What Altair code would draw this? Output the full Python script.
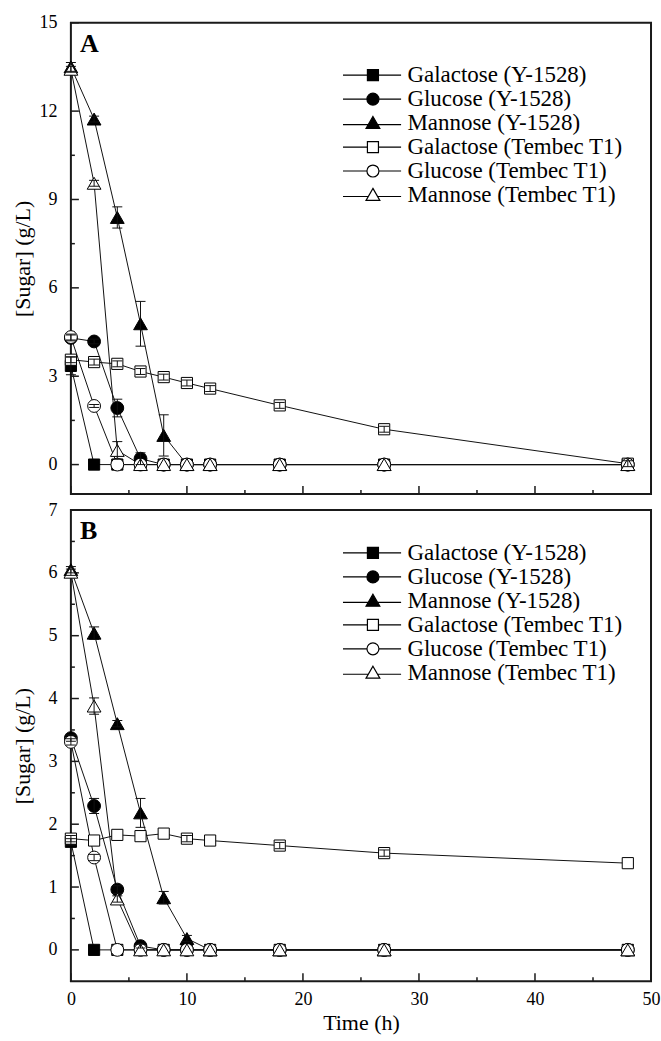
import altair as alt
import pandas as pd

FONT = "Liberation Serif"
W = 581
H = 472

times = [0, 2, 4, 6, 8, 10, 12, 18, 27, 48]
series_names = ["Galactose (Y-1528)", "Glucose (Y-1528)", "Mannose (Y-1528)",
                "Galactose (Tembec T1)", "Glucose (Tembec T1)", "Mannose (Tembec T1)"]
point_shapes = ["square", "circle", "triangle-up", "square", "circle", "triangle-up"]
point_fills = ["black", "black", "black", "white", "white", "white"]
point_strokes = ["black", "black", "black", "black", "black", "black"]
point_sizes = [125, 165, 190, 125, 165, 190]
legend_paths = [
    "M-5,0H-0.92M0.92,0H4.7M-0.92,-0.92H0.92V0.92H-0.92Z",
    "M-5,0H-1M1,0H4.7M-1,0A1,1,0,1,1,1,0A1,1,0,1,1,-1,0Z",
    "M-5,0.25H-0.78M0.78,0.25H4.7M0,-1.1L1.15,0.9H-1.15Z",
    "M-5,0H-0.92M0.92,0H4.7M-0.92,-0.92H0.92V0.92H-0.92Z",
    "M-5,0H-1M1,0H4.7M-1,0A1,1,0,1,1,1,0A1,1,0,1,1,-1,0Z",
    "M-5,0.25H-0.78M0.78,0.25H4.7M0,-1.1L1.15,0.9H-1.15Z",
]
panel_labels = ["A", "B"]

# Panel A values (g/L)
a_gal_y = [3.35, 0, 0, 0, 0, 0, 0, 0, 0, 0]
a_glu_y = [4.30, 4.18, 1.92, 0.20, 0, 0, 0, 0, 0, 0]
a_man_y = [13.50, 11.73, 8.39, 4.78, 0.99, 0, 0, 0, 0, 0]
a_gal_t = [3.56, 3.48, 3.42, 3.16, 2.97, 2.77, 2.58, 2.01, 1.20, 0.03]
a_glu_t = [4.33, 1.99, 0, 0, 0, 0, 0, 0, 0, 0]
a_man_t = [13.42, 9.55, 0.48, 0, 0, 0, 0, 0, 0, 0]
# Panel A error half-widths
a_gal_y_err = [0.30, 0, 0, 0, 0, 0, 0, 0, 0, 0]
a_glu_y_err = [0.10, 0.08, 0.30, 0.20, 0, 0, 0, 0, 0, 0]
a_man_y_err = [0.15, 0.10, 0.36, 0.76, 0.70, 0, 0, 0, 0, 0]
a_gal_t_err = [0.10, 0.10, 0.10, 0.10, 0.10, 0.10, 0.10, 0.10, 0.10, 0.10]
a_glu_t_err = [0.10, 0.05, 0, 0, 0, 0, 0, 0, 0, 0]
a_man_t_err = [0.10, 0.10, 0.30, 0, 0, 0, 0, 0, 0, 0]

# Panel B values (g/L)
b_gal_y = [1.72, 0, 0, 0, 0, 0, 0, 0, 0, 0]
b_glu_y = [3.37, 2.29, 0.96, 0.06, 0, 0, 0, 0, 0, 0]
b_man_y = [6.05, 5.04, 3.60, 2.18, 0.83, 0.18, 0, 0, 0, 0]
b_gal_t = [1.77, 1.74, 1.83, 1.81, 1.85, 1.77, 1.74, 1.66, 1.54, 1.38]
b_glu_t = [3.31, 1.47, 0, 0, 0, 0, 0, 0, 0, 0]
b_man_t = [6.01, 3.88, 0.81, 0, 0, 0, 0, 0, 0, 0]
# Panel B error half-widths
b_gal_y_err = [0.05, 0, 0, 0, 0, 0, 0, 0, 0, 0]
b_glu_y_err = [0.05, 0.12, 0.06, 0.03, 0, 0, 0, 0, 0, 0]
b_man_y_err = [0.05, 0.10, 0.05, 0.23, 0.10, 0.05, 0, 0, 0, 0]
b_gal_t_err = [0.05, 0, 0, 0, 0, 0.05, 0, 0.05, 0.05, 0]
b_glu_t_err = [0.05, 0.05, 0, 0, 0, 0, 0, 0, 0, 0]
b_man_t_err = [0.05, 0.13, 0.05, 0, 0, 0, 0, 0, 0, 0]

x_label_values = [0, 10, 20, 30, 40, 50]
x_minor_values = [5, 15, 25, 35, 45]
a_y_label_values = [0, 3, 6, 9, 12, 15]
a_y_minor_values = [1.5, 4.5, 7.5, 10.5, 13.5]
b_y_label_values = [0, 1, 2, 3, 4, 5, 6, 7]
b_y_minor_values = [0.5, 1.5, 2.5, 3.5, 4.5, 5.5, 6.5]


def long_df(values_list, errs_list):
    rows = []
    for name, vals, errs in zip(series_names, values_list, errs_list):
        for t, v, e in zip(times, vals, errs):
            rows.append({"t": t, "v": v, "err": e, "lo": v - e, "hi": v + e, "series": name})
    return pd.DataFrame(rows)


df_a = long_df([a_gal_y, a_glu_y, a_man_y, a_gal_t, a_glu_t, a_man_t],
               [a_gal_y_err, a_glu_y_err, a_man_y_err, a_gal_t_err, a_glu_t_err, a_man_t_err])
df_b = long_df([b_gal_y, b_glu_y, b_man_y, b_gal_t, b_glu_t, b_man_t],
               [b_gal_y_err, b_glu_y_err, b_man_y_err, b_gal_t_err, b_glu_t_err, b_man_t_err])


def panel(df, label, ydomain, ylabels, yminor, show_x_labels, legend_y):
    xscale = alt.Scale(domain=[0, 50], nice=False, zero=False)
    yscale = alt.Scale(domain=ydomain, nice=False, zero=False)

    if show_x_labels:
        x_lab_axis = alt.Axis(orient="bottom", values=x_label_values, ticks=False, domain=False,
                              grid=False, labelFont=FONT, labelFontSize=18, labelColor="black",
                              labelPadding=9, labelFlush=False, title="Time (h)", titleFont=FONT,
                              titleFontSize=22, titleFontWeight="normal", titleColor="black",
                              titlePadding=4)
    else:
        x_lab_axis = None
    y_lab_axis = alt.Axis(orient="left", values=ylabels, ticks=False, domain=False, grid=False,
                          labelFont=FONT, labelFontSize=18, labelColor="black", labelPadding=14,
                          minExtent=32, maxExtent=32, title="[Sugar] (g/L)", titleFont=FONT,
                          titleFontSize=22, titleFontWeight="normal", titleColor="black",
                          titlePadding=4)

    base = alt.Chart(df)
    layers = []
    layers.append(base.mark_line(color="#111", strokeWidth=1).encode(
        x=alt.X("t:Q", scale=xscale, axis=x_lab_axis),
        y=alt.Y("v:Q", scale=yscale, axis=y_lab_axis),
        detail="series:N",
    ))

    # inward ticks, drawn from the tick value lists through the scales
    for vals, length in [(x_label_values, 8), (x_minor_values, 4)]:
        layers.append(alt.Chart(pd.DataFrame({"tv": vals})).mark_rule(
            color="#1a1a1a", strokeWidth=1.5
        ).encode(
            x=alt.X("tv:Q", scale=xscale, axis=None),
            y=alt.value(H), y2=alt.value(H - length),
        ))
    for vals, length in [(ylabels, 8), (yminor, 4)]:
        layers.append(alt.Chart(pd.DataFrame({"tv": vals})).mark_rule(
            color="#1a1a1a", strokeWidth=1.5
        ).encode(
            y=alt.Y("tv:Q", scale=yscale, axis=None),
            x=alt.value(0), x2=alt.value(length),
        ))

    for i, name in enumerate(series_names):
        layers.append(
            base.transform_filter(alt.datum.series == name).mark_point(
                shape=point_shapes[i], filled=True, fill=point_fills[i], stroke="black",
                strokeWidth=1, size=point_sizes[i], opacity=1
            ).encode(
                x=alt.X("t:Q", scale=xscale, axis=None),
                y=alt.Y("v:Q", scale=yscale, axis=None),
            )
        )
    errs = base.transform_filter("datum.err > 0")
    layers.append(errs.mark_rule(color="#111", strokeWidth=1).encode(
        x=alt.X("t:Q", scale=xscale, axis=None),
        y=alt.Y("lo:Q", scale=yscale, axis=None),
        y2="hi:Q",
    ))
    for fld in ["lo", "hi"]:
        layers.append(errs.mark_tick(orient="horizontal", size=10, thickness=1, color="#111", opacity=1).encode(
            x=alt.X("t:Q", scale=xscale, axis=None),
            y=alt.Y(f"{fld}:Q", scale=yscale, axis=None),
        ))
    leg = alt.Legend(orient="none", legendX=291, legendY=legend_y, title=None, padding=0,
                     labelFont=FONT, labelFontSize=23, labelColor="black", labelOffset=23,
                     symbolSize=144, symbolStrokeWidth=1.2,
                     symbolOpacity=1, rowPadding=-0.5, labelLimit=400)
    layers.append(base.transform_filter("false").mark_point(
        filled=True, strokeWidth=1.2, opacity=1
    ).encode(
        shape=alt.Shape("series:N", scale=alt.Scale(domain=series_names, range=legend_paths), legend=leg),
        fill=alt.Fill("series:N", scale=alt.Scale(domain=series_names, range=point_fills), legend=leg),
        stroke=alt.Stroke("series:N", scale=alt.Scale(domain=series_names, range=point_strokes), legend=leg),
    ))
    layers.append(alt.Chart(pd.DataFrame({"label": [label]})).mark_text(
        font=FONT, fontSize=26, fontWeight="bold", align="left", baseline="alphabetic", color="black"
    ).encode(text="label:N", x=alt.value(9), y=alt.value(29)))

    return alt.layer(*layers).resolve_axis(x="independent", y="independent").properties(width=W, height=H)


pa = panel(df_a, panel_labels[0], [-1, 15], a_y_label_values, a_y_minor_values, False, 41)
pb = panel(df_b, panel_labels[1], [-0.5, 7], b_y_label_values, b_y_minor_values, True, 31.5)

chart = alt.vconcat(pa, pb, spacing=16, bounds="flush").resolve_scale(
    shape="independent", fill="independent", stroke="independent"
).resolve_legend(shape="independent", fill="independent", stroke="independent").properties(
    padding={"left": 11, "top": 12, "right": 0, "bottom": 0}, background="white"
).configure_view(stroke="#1a1a1a", strokeWidth=2)

chart.save("out.html", embed_options={"renderer": "svg", "actions": False})
